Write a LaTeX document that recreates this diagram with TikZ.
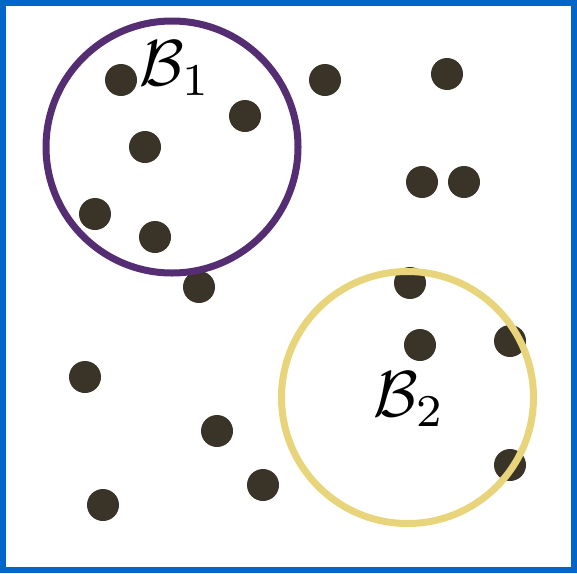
\documentclass[tikz,border=0pt]{standalone}
\usepackage{amsmath}
\usepackage{graphicx}
\definecolor{bord}{RGB}{0,102,204}
\definecolor{purp}{RGB}{85,45,115}
\definecolor{yell}{RGB}{232,212,122}
\definecolor{dotc}{RGB}{58,52,40}
\begin{document}
\begin{tikzpicture}[x=1pt,y=-1pt,
  pt/.style={circle,fill=dotc,inner sep=0pt,minimum size=32pt},
  ball/.style={line width=7pt},
  lab/.style={inner sep=0pt}]
\useasboundingbox (0,0) rectangle (577,573);
\draw[bord,line width=6pt] (3,3) rectangle (574,570);
\foreach \n/\x/\y in {a/121/80,b/325/80,c/447/74,d/245/116,e/145/147,f/422/182,g/464/182,h/95/214,i/155/237,j/199/287,k/410/283,l/420/345,m/510/341,n/85/377,o/217/431,p/510/465,q/263/485,r/103/505}
  \node[pt] (\n) at (\x,\y) {};
\draw[ball,purp] (172,147) circle (126);
\draw[ball,yell] (407.5,397.5) circle (126);
\node[lab] (b1) at (175,68) {\scalebox{6.5}{$\mathcal{B}_1$}};
\node[lab] (b2) at (409,399) {\scalebox{6.5}{$\mathcal{B}_2$}};
\end{tikzpicture}
\end{document}
